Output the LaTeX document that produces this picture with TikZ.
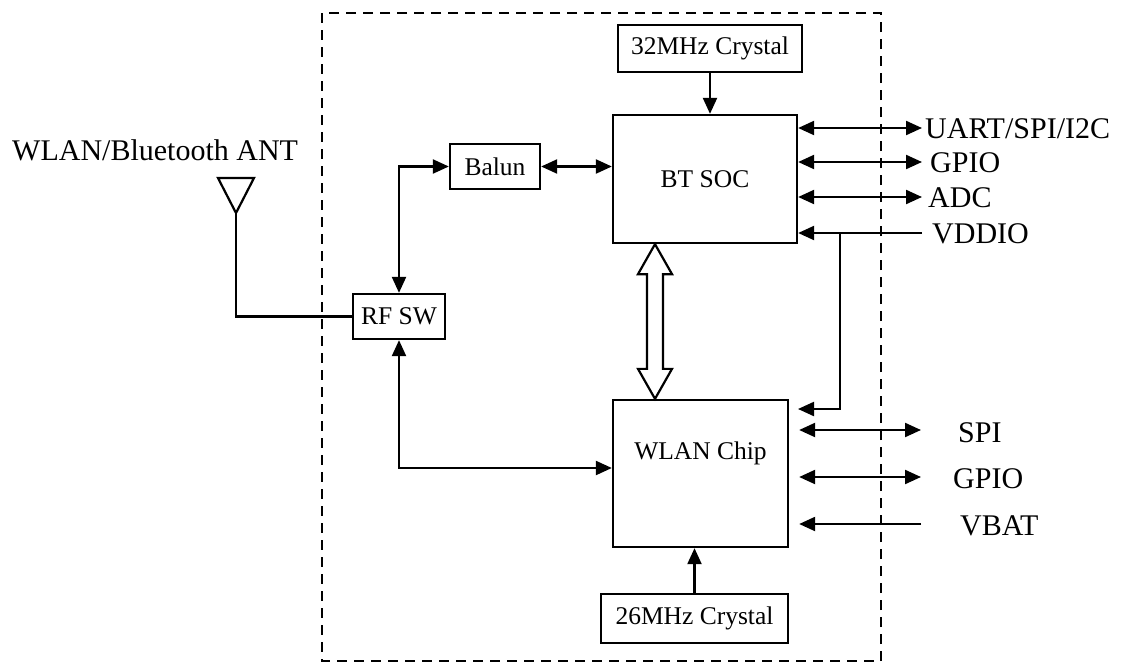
\documentclass[tikz,border=0pt]{standalone}
\usepackage{fontspec}
\setmainfont{Liberation Serif}
\usepackage{tikz}
\usetikzlibrary{arrows.meta, positioning, calc}
\newcommand{\chipfont}{\fontsize{25.5}{30}\selectfont}
\newcommand{\pinfont}{\fontsize{30}{36}\selectfont}

\begin{document}
\begin{tikzpicture}[
        x=1pt, y=-1pt,
        block/.style={rectangle, draw, line width=2.3pt, inner sep=0pt, font=\chipfont},
        pin/.style={inner sep=0pt, anchor=base west, font=\pinfont},
        conn/.style={-{Triangle[length=16pt, width=14pt]}, line width=2.2pt},
        biconn/.style={{Triangle[length=16pt, width=14pt]}-{Triangle[length=16pt, width=14pt]}, line width=2.2pt},
        wire/.style={line width=2.2pt},
        bus/.style={line width=2.2pt, line join=miter},
        module/.style={line width=2.8pt, dash pattern=on 10pt off 7pt},
    ]
    \useasboundingbox (0,0) rectangle (1133,664);

    % Module outline
    \draw[module] (322,13) rectangle (881,661);

    % Chips
    \node[block, minimum width=184pt, minimum height=128pt] (btsoc) at (705,179) {BT SOC};
    \node[block, minimum width=175pt, minimum height=147pt,
          label={[font=\chipfont, anchor=center, yshift=-55pt]above:WLAN Chip}] (wlan) at (700.5,473.5) {};

    % Crystals
    \node[block, minimum width=184pt, minimum height=47pt] (xtal32) at (710,48.5) {32MHz Crystal};
    \node[block, minimum width=187pt, minimum height=49pt] (xtal26) at (694.5,618.5) {26MHz Crystal};

    % RF path
    \node[block, minimum width=90pt, minimum height=45pt] (balun) at (495,166.5) {Balun};
    \node[block, minimum width=92pt, minimum height=45pt] (rfsw) at (399,316.5) {RF SW};

    % Antenna
    \coordinate (ant) at (236,213);
    \draw[wire, line join=miter] (ant) -- ++(-18,-35) -- ++(36,0) -- cycle;
    \node[pin] (antlabel) at (12,160) {WLAN/Bluetooth ANT};

    % Internal connections
    \draw[conn] (xtal32) -- (xtal32 |- btsoc.north);
    \draw[conn] (xtal26) -- (xtal26 |- wlan.south);
    \draw[biconn] (balun) -- (balun -| btsoc.west);
    \draw[biconn] (rfsw) |- (balun);
    \draw[biconn] (rfsw) |- ([yshift=5.5pt]wlan.west);
    \draw[wire] (ant) |- (rfsw);

    % Bus between the chips
    \coordinate (bustop) at ([xshift=-50pt]btsoc.south);
    \coordinate (busbot) at ([xshift=-45.5pt]wlan.north);
    \draw[bus] (bustop) -- ++(17,30) -- ++(-9,0) -- ($(busbot)+(8,-30)$) -- ++(9,0) -- (busbot)
        -- ++(-17,-30) -- ++(9,0) -- ($(bustop)+(-8,30)$) -- ++(-9,0) -- cycle;

    % BT SOC pins
    \coordinate (uartpin) at (922,128);
    \coordinate (btgpiopin) at (922,162);
    \coordinate (adcpin) at (922,197);
    \coordinate (vddiopin) at (922,233);
    \node[pin] (uart) at ([xshift=3pt, yshift=-10pt]uartpin) {UART/SPI/I2C};
    \node[pin] (btgpio) at ([xshift=8pt, yshift=-10pt]btgpiopin) {GPIO};
    \node[pin] (adc) at ([xshift=6pt, yshift=-10pt]adcpin) {ADC};
    \node[pin] (vddio) at ([xshift=10pt, yshift=-10pt]vddiopin) {VDDIO};
    \draw[biconn] (btsoc.east |- uartpin) -- (uartpin);
    \draw[biconn] (btsoc.east |- btgpiopin) -- (btgpiopin);
    \draw[biconn] (btsoc.east |- adcpin) -- (adcpin);
    \draw[conn] (vddiopin) -- (btsoc.east |- vddiopin);

    % WLAN pins
    \coordinate (wport) at ([xshift=10pt]wlan.east);
    \coordinate (tap) at (840,233);
    \coordinate (wsupply) at (798,409);
    \coordinate (spipin) at (921,430);
    \coordinate (wgpiopin) at (921,477);
    \coordinate (vbatpin) at (921,524);
    \node[pin] (spi) at ([xshift=37pt, yshift=-12pt]spipin) {SPI};
    \node[pin] (wgpio) at ([xshift=32pt, yshift=-11pt]wgpiopin) {GPIO};
    \node[pin] (vbat) at ([xshift=39pt, yshift=-11pt]vbatpin) {VBAT};
    \draw[conn] (tap) |- (wsupply);
    \draw[biconn] (wport |- spipin) -- (spipin);
    \draw[biconn] (wport |- wgpiopin) -- (wgpiopin);
    \draw[conn] (vbatpin) -- (wport |- vbatpin);
\end{tikzpicture}
\end{document}
